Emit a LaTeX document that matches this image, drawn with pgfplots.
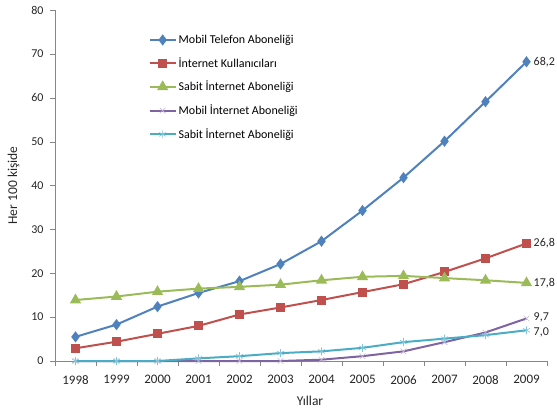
\documentclass[border=0pt]{standalone}
\usepackage{pgfplots}
\pgfplotsset{compat=1.18}
\usepackage{fontspec}
\setmainfont{Carlito}
\definecolor{cblue}{HTML}{4F81BD}
\definecolor{cred}{HTML}{C0504D}
\definecolor{cgreen}{HTML}{9BBB59}
\definecolor{cpurple}{HTML}{8064A2}
\definecolor{ccyan}{HTML}{4BACC6}
\definecolor{axgray}{HTML}{868686}
\begin{document}
\begin{tikzpicture}[font=\fontsize{12}{14}\selectfont]
\path[use as bounding box] (-55pt,-55pt) rectangle (502pt,361pt);
\begin{axis}[
  scale only axis, width=492pt, height=351pt,
  xmin=-0.5, xmax=11.5, ymin=0, ymax=80,
  axis lines*=left,
  axis line style={axgray, line width=0.8pt},
  xtick={0,...,11},
  xticklabels={1998,1999,2000,2001,2002,2003,2004,2005,2006,2007,2008,2009},
  minor xtick={-0.5,0.5,...,11.5},
  major x tick style={draw=none},
  minor tick length=5pt,
  minor x tick style={axgray},
  ytick={0,10,...,80},
  major tick length=5pt,
  y tick style={axgray},
  tick align=outside,
  tick label style={text=black!85},
  /pgf/number format/assume math mode=true,
  xticklabel style={font=\fontsize{13}{15}\selectfont, yshift=-6pt},
  yticklabel style={font=\fontsize{12}{14}\selectfont, xshift=-3pt},
  xlabel={Yıllar}, ylabel={Her 100 kişide},
  xlabel style={font=\fontsize{13.5}{15}\selectfont, yshift=-5pt, xshift=9pt, text=black!85},
  ylabel style={font=\fontsize{13.5}{15}\selectfont, yshift=5pt, text=black!85},
  clip=false,
  legend cell align=left,
  legend style={draw=none, fill=none, at={(0.19,0.935)}, anchor=north west,
    font=\fontsize{12}{14}\selectfont, row sep=8.5pt, inner sep=0pt},
  legend image code/.code={
    \draw[#1] (0pt,0pt) -- (26pt,0pt);
    \draw[#1, only marks] plot coordinates {(13pt,0pt)};
  },
  every axis plot/.append style={line width=2pt, mark options={solid}},
]
\addplot[cblue, mark=diamond*, mark size=4pt] coordinates {
(0,5.5) (1,8.3) (2,12.4) (3,15.5) (4,18.2) (5,22.1) (6,27.3) (7,34.3) (8,41.8) (9,50.1) (10,59.1) (11,68.2)};
\addlegendentry{Mobil Telefon Aboneliği}
\addplot[cred, mark=square*, mark size=3.5pt] coordinates {
(0,2.9) (1,4.4) (2,6.2) (3,8.0) (4,10.6) (5,12.2) (6,13.9) (7,15.7) (8,17.5) (9,20.3) (10,23.4) (11,26.8)};
\addlegendentry{İnternet Kullanıcıları}
\addplot[cgreen, mark=triangle*, mark size=4.5pt] coordinates {
(0,13.9) (1,14.7) (2,15.8) (3,16.5) (4,16.9) (5,17.4) (6,18.4) (7,19.2) (8,19.4) (9,18.9) (10,18.4) (11,17.8)};
\addlegendentry{Sabit İnternet Aboneliği}
\addplot[cpurple, mark=x, mark size=4pt, mark options={line width=0.6pt, cpurple!45}] coordinates {
(0,0) (1,0) (2,0) (3,0) (4,0) (5,0) (6,0.3) (7,1.1) (8,2.2) (9,4.3) (10,6.5) (11,9.7)};
\addlegendentry{Mobil İnternet Aboneliği}
\addplot[ccyan, mark=asterisk, mark size=4pt, mark options={line width=0.6pt, ccyan!70}] coordinates {
(0,0) (1,0) (2,0) (3,0.6) (4,1.1) (5,1.8) (6,2.2) (7,3.0) (8,4.3) (9,5.1) (10,5.9) (11,7.0)};
\addlegendentry{Sabit İnternet Aboneliği}
\node[anchor=west, text=black!85, font=\fontsize{12}{14}\selectfont, inner sep=1pt] at (axis cs:11,68.2) [xshift=6pt] {68,2};
\node[anchor=west, text=black!85, font=\fontsize{12}{14}\selectfont, inner sep=1pt] at (axis cs:11,26.8) [xshift=6pt] {26,8};
\node[anchor=west, text=black!85, font=\fontsize{12}{14}\selectfont, inner sep=1pt] at (axis cs:11,17.8) [xshift=6pt] {17,8};
\node[anchor=west, text=black!85, font=\fontsize{12}{14}\selectfont, inner sep=1pt] at (axis cs:11,9.7) [xshift=6pt, yshift=1pt] {9,7};
\node[anchor=west, text=black!85, font=\fontsize{12}{14}\selectfont, inner sep=1pt] at (axis cs:11,7.0) [xshift=6pt, yshift=-2pt] {7,0};
\end{axis}
\end{tikzpicture}
\end{document}
